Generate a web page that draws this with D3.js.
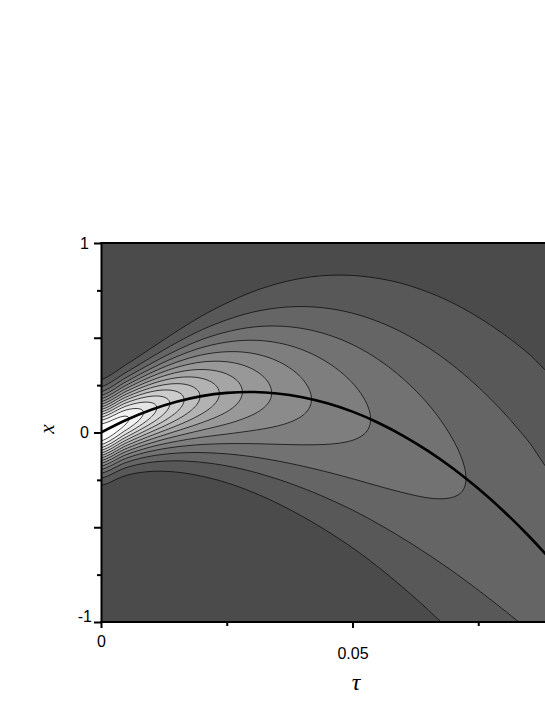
<!DOCTYPE html>
<html>
<head>
<meta charset="utf-8">
<script src="https://cdn.jsdelivr.net/npm/d3@7"></script>
<style>
  html, body { margin: 0; padding: 0; background: #ffffff; }
  svg { display: block; }
</style>
</head>
<body>
<div id="chart"></div>
<script>
// ---- data ----
// time samples (tau) of the wave-packet trajectory
const tauSamples = [0, 0.005, 0.01, 0.015, 0.02, 0.025, 0.03, 0.035, 0.04, 0.045,
                    0.05, 0.055, 0.06, 0.065, 0.07, 0.075, 0.08, 0.085, 0.09];
// centre of the packet (thick black curve)
const centerX = [0, 0.066, 0.120, 0.162, 0.192, 0.209, 0.214, 0.206, 0.186, 0.154,
                 0.110, 0.053, -0.016, -0.097, -0.190, -0.296, -0.414, -0.545, -0.688];
const packetWidth = [0.120, 0.127, 0.145, 0.171, 0.202, 0.235, 0.271, 0.308, 0.346, 0.384,
                     0.422, 0.461, 0.501, 0.540, 0.580, 0.619, 0.659, 0.699, 0.739];
// contour levels (relative density)
const levels = [0.0667, 0.1333, 0.2, 0.2667, 0.3333, 0.4, 0.4667, 0.5333, 0.6, 0.6667,
                0.7333, 0.8, 0.8667, 0.9333];
// axis ticks
const xMajorTicks = [0, 0.05];
const xMajorLabels = ["0", "0.05"];
const xMinorTicks = [0.025, 0.075];
const yMajorTicks = [-1, -0.5, 0, 0.5, 1];
const yMajorLabels = ["-1", "", "0", "", "1"];
const yMinorTicks = [-0.75, -0.25, 0.25, 0.75];

// ---- drawing ----
const W = 545, H = 705;
const svg = d3.select("#chart").append("svg").attr("width", W).attr("height", H);

const xScale = d3.scaleLinear().domain([0, 0.05]).range([101, 352.5]);
const yScale = d3.scaleLinear().domain([-1, 1]).range([622, 243]);
const tauMax = 0.09;
const plotLeft = xScale(0), plotRight = xScale(tauMax);
const plotTop = yScale(1), plotBottom = yScale(-1);

// Catmull-Rom sampling of the read arrays
const step = tauSamples[1] - tauSamples[0];
function sampleAt(arr, t) {
  const n = arr.length;
  let u = (t - tauSamples[0]) / step;
  u = Math.max(0, Math.min(n - 1, u));
  let i = Math.min(Math.floor(u), n - 2);
  const f = u - i;
  const p0 = arr[Math.max(i - 1, 0)], p1 = arr[i], p2 = arr[i + 1], p3 = arr[Math.min(i + 2, n - 1)];
  const f2 = f * f, f3 = f2 * f;
  return 0.5 * ((2 * p1) + (-p0 + p2) * f + (2 * p0 - 5 * p1 + 4 * p2 - p3) * f2 + (-p0 + 3 * p1 - 3 * p2 + p3) * f3);
}
const w0 = packetWidth[0];
function density(t, xv) {
  const c = sampleAt(centerX, t);
  const s = sampleAt(packetWidth, t);
  const d = xv - c;
  return (w0 / s) * Math.exp(-d * d / (2 * s * s));
}

// grid in pixel space, a little larger than the plot area (clipped later)
const gx0 = 88, gy0 = 230, nx = 475, ny = 406;
const values = new Float64Array(nx * ny);
for (let j = 0; j < ny; j++) {
  const xv = yScale.invert(gy0 + j);
  for (let i = 0; i < nx; i++) {
    const t = xScale.invert(gx0 + i);
    values[j * nx + i] = density(t, xv);
  }
}
const contours = d3.contours().size([nx, ny]).thresholds(levels)(values);

const grayScale = d3.scaleLinear().domain([0, levels.length]).range(["#4b4b4b", "#ffffff"]).interpolate(d3.interpolateRgb);

svg.append("defs").append("clipPath").attr("id", "plotClip")
  .append("rect")
  .attr("x", plotLeft).attr("y", plotTop)
  .attr("width", plotRight - plotLeft).attr("height", plotBottom - plotTop);

const plot = svg.append("g").attr("clip-path", "url(#plotClip)");
plot.append("rect")
  .attr("x", plotLeft).attr("y", plotTop)
  .attr("width", plotRight - plotLeft).attr("height", plotBottom - plotTop)
  .attr("fill", grayScale(0));

const path = d3.geoPath();
const cg = plot.append("g").attr("transform", `translate(${gx0 - 0.5},${gy0 - 0.5})`);
cg.selectAll("path.fill")
  .data(contours)
  .join("path")
  .attr("class", "fill")
  .attr("d", path)
  .attr("fill", (d, i) => grayScale(i + 1))
  .attr("stroke", "none");
cg.selectAll("path.iso")
  .data(contours)
  .join("path")
  .attr("class", "iso")
  .attr("d", path)
  .attr("fill", "none")
  .attr("stroke", "#0a0a0a")
  .attr("stroke-width", 0.75);

// thick centre line
const centerLine = d3.line()
  .x((d, i) => xScale(tauSamples[i]))
  .y(d => yScale(d))
  .curve(d3.curveCatmullRom.alpha(0));
plot.append("path")
  .datum(centerX)
  .attr("d", centerLine)
  .attr("fill", "none")
  .attr("stroke", "#000")
  .attr("stroke-width", 2.6);

// ---- axes ----
const tickFont = "'Liberation Sans', Arial, Helvetica, sans-serif";

// left axis
const yAxisMajor = d3.axisLeft(yScale).tickValues(yMajorTicks).tickSize(7).tickSizeOuter(0)
  .tickFormat((d, i) => yMajorLabels[i]).tickPadding(5);
const gy = svg.append("g").attr("transform", `translate(${plotLeft},0)`).call(yAxisMajor);
gy.select(".domain").attr("stroke", "#000").attr("stroke-width", 2);
gy.selectAll(".tick line").attr("stroke", "#000").attr("stroke-width", 2);
gy.selectAll(".tick text")
  .attr("font-family", tickFont).attr("font-size", 16).attr("fill", "#000")
  .attr("x", d => d === -1 ? -9 : -12)
  .attr("dy", d => d === -1 ? "-0.02em" : "0.32em");
const yAxisMinor = d3.axisLeft(yScale).tickValues(yMinorTicks).tickSize(4).tickSizeOuter(0).tickFormat("");
const gym = svg.append("g").attr("transform", `translate(${plotLeft},0)`).call(yAxisMinor);
gym.select(".domain").remove();
gym.selectAll(".tick line").attr("stroke", "#000").attr("stroke-width", 2);

// bottom axis
const xAxisMajor = d3.axisBottom(xScale).tickValues(xMajorTicks).tickSize(6).tickSizeOuter(0)
  .tickFormat((d, i) => xMajorLabels[i]);
const gxa = svg.append("g").attr("transform", `translate(0,${plotBottom})`).call(xAxisMajor);
gxa.select(".domain").attr("stroke", "#000").attr("stroke-width", 2)
  .attr("d", `M${plotLeft - 1},0H${plotRight}`);
gxa.selectAll(".tick line").attr("stroke", "#000").attr("stroke-width", 2);
gxa.selectAll(".tick text")
  .attr("font-family", tickFont).attr("font-size", 16).attr("fill", "#000")
  .attr("dy", 0)
  .attr("y", d => d === 0 ? 25 : 37);
const xAxisMinor = d3.axisBottom(xScale).tickValues(xMinorTicks).tickSize(4).tickSizeOuter(0).tickFormat("");
const gxm = svg.append("g").attr("transform", `translate(0,${plotBottom})`).call(xAxisMinor);
gxm.select(".domain").remove();
gxm.selectAll(".tick line").attr("stroke", "#000").attr("stroke-width", 2);

// top border
svg.append("line")
  .attr("x1", plotLeft - 1).attr("x2", plotRight)
  .attr("y1", plotTop).attr("y2", plotTop)
  .attr("stroke", "#000").attr("stroke-width", 2);

// axis titles
const titleFont = "'Liberation Serif', 'Times New Roman', serif";
svg.append("text")
  .attr("transform", `translate(54,429) rotate(-90)`)
  .attr("text-anchor", "middle")
  .attr("font-family", titleFont).attr("font-style", "italic").attr("font-size", 21)
  .attr("fill", "#000")
  .text("x");
svg.append("text")
  .attr("x", 356).attr("y", 690)
  .attr("text-anchor", "middle")
  .attr("font-family", titleFont).attr("font-style", "italic").attr("font-size", 24)
  .attr("fill", "#000")
  .text("τ");
</script>
</body>
</html>
